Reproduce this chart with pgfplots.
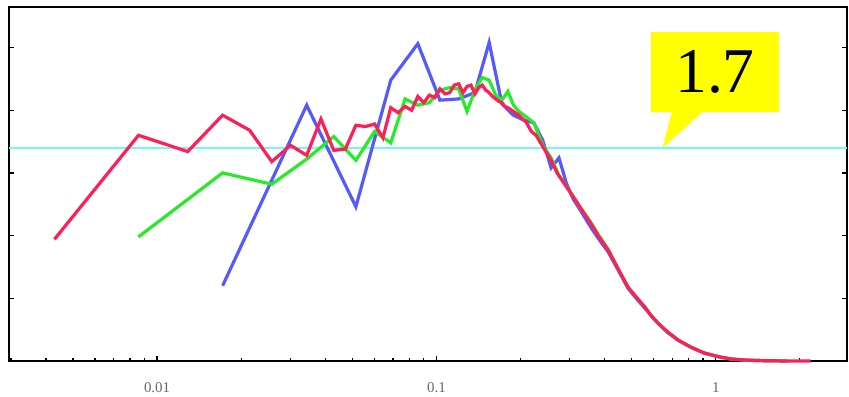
\documentclass[border=0pt]{standalone}
\usepackage{pgfplots}
\pgfplotsset{compat=1.18}
\usepackage{fontspec}
\setmainfont{Liberation Serif}
\definecolor{cred}{RGB}{255,30,85}
\definecolor{cblue}{RGB}{85,90,255}
\definecolor{cgreen}{RGB}{40,235,40}
\definecolor{ccyan}{RGB}{110,250,250}
\definecolor{cyel}{RGB}{255,255,0}
\begin{document}
\begin{tikzpicture}
\begin{axis}[
  scale only axis,
  width=838bp, height=354bp,
  xmode=log,
  xmin=0.00295, xmax=2.95,
  ymin=0, ymax=2.823,
  xtick={0.01,0.1,1},
  xticklabels={0.01,0.1,1},
  minor xtick={0.003,0.004,0.005,0.006,0.007,0.008,0.009,0.02,0.03,0.04,0.05,0.06,0.07,0.08,0.09,0.2,0.3,0.4,0.5,0.6,0.7,0.8,0.9,2},
  ytick={0,0.5,1,1.5,2,2.5},
  yticklabels={},
  xtick pos=bottom, ytick pos=both,
  tick align=inside,
  major tick length=5bp, minor tick length=3.5bp,
  tick style={black, line width=1.3bp},
  axis line style={line width=1.8bp},
  xticklabel style={font=\fontsize{15}{15}\selectfont, text=black!60, anchor=center, yshift=-27bp},
  clip=false,
]
\addplot[ccyan, line width=2.4bp, forget plot] coordinates {(0.00295,1.7) (2.95,1.7)};
% blue
\addplot[cblue, line width=3.2bp] coordinates {
(0.01716,0.60) (0.03432,2.04) (0.05148,1.23) (0.06864,2.24) (0.0858,2.53)
(0.10296,2.08) (0.12012,2.09) (0.13728,2.14) (0.15444,2.54) (0.1716,2.05)
(0.18876,1.96) (0.20592,1.92) (0.22308,1.90) (0.24024,1.76) (0.2574,1.54)
(0.27456,1.62) (0.29172,1.42) (0.30888,1.29) (0.326,1.21) (0.35607,1.07)
(0.382,0.97) (0.41184,0.87) (0.446,0.73) (0.48477,0.58) (0.519,0.50)
(0.5577,0.42) (0.588,0.36) (0.62205,0.30) (0.674,0.225) (0.73359,0.165)
(0.815,0.11) (0.90948,0.062) (1.03,0.032) (1.13685,0.015) (1.287,0.006)
(1.4586,0.003) (1.8018,0.0)
};
% green
\addplot[cgreen, line width=3.2bp] coordinates {
(0.00858,0.99) (0.01716,1.50) (0.02574,1.41) (0.03432,1.61) (0.0429,1.79)
(0.05148,1.60) (0.06006,1.83) (0.06864,1.74) (0.07722,2.09) (0.0858,2.04)
(0.09438,2.06) (0.10296,2.16) (0.11154,2.18) (0.12012,2.17) (0.1287,1.99)
(0.13728,2.16) (0.14586,2.26) (0.15444,2.24) (0.16302,2.12) (0.1716,2.08)
(0.18018,2.15) (0.18876,2.04) (0.19734,1.99) (0.20592,1.96) (0.22308,1.90)
(0.24024,1.72) (0.2574,1.62) (0.27456,1.48) (0.30888,1.31) (0.326,1.23)
(0.35607,1.11) (0.382,1.00) (0.41184,0.89) (0.446,0.74) (0.48477,0.59)
(0.519,0.51) (0.5577,0.43) (0.588,0.36) (0.62205,0.30) (0.674,0.23)
(0.73359,0.167) (0.815,0.11) (0.90948,0.064) (1.03,0.033) (1.13685,0.016)
(1.287,0.007) (1.4586,0.003) (1.8018,0.0)
};
% red
\addplot[cred, line width=3.2bp] coordinates {
(0.00429,0.97) (0.00858,1.80) (0.01287,1.67) (0.01716,1.96) (0.02145,1.84)
(0.02574,1.59) (0.03003,1.72) (0.03432,1.64) (0.03861,1.93) (0.0429,1.68)
(0.04719,1.69) (0.05148,1.88) (0.05577,1.87) (0.06006,1.89) (0.06435,1.78)
(0.06864,2.02) (0.07293,1.98) (0.07722,2.03) (0.08151,2.00) (0.0858,2.11)
(0.09009,2.06) (0.09438,2.12) (0.09867,2.10) (0.10296,2.17) (0.10725,2.13)
(0.11154,2.14) (0.11583,2.20) (0.12012,2.21) (0.12441,2.14) (0.1287,2.19)
(0.13299,2.20) (0.13728,2.13) (0.14157,2.18) (0.14586,2.20) (0.15015,2.16)
(0.15444,2.14) (0.15873,2.11) (0.16302,2.09) (0.16731,2.07) (0.1716,2.06)
(0.17589,2.03) (0.18018,2.02) (0.18876,1.99) (0.19734,1.96) (0.21021,1.90)
(0.21879,1.83) (0.22737,1.80) (0.24024,1.71) (0.2574,1.60) (0.27027,1.50)
(0.30888,1.31) (0.326,1.23) (0.35607,1.10) (0.382,0.99) (0.41184,0.885)
(0.446,0.74) (0.48477,0.59) (0.519,0.51) (0.5577,0.43) (0.588,0.36)
(0.62205,0.30) (0.674,0.23) (0.73359,0.167) (0.815,0.11) (0.90948,0.064)
(1.03,0.033) (1.13685,0.016) (1.287,0.007) (1.4586,0.003)
(1.8018,0.0) (2.1879,0.0)
};
\fill[cyel] (rel axis cs:0.766,0.703) rectangle (rel axis cs:0.919,0.929);
\fill[cyel] (rel axis cs:0.791,0.705) -- (rel axis cs:0.828,0.705) -- (rel axis cs:0.780,0.602) -- cycle;
\node[font=\fontsize{64}{64}\selectfont, text=black] at (rel axis cs:0.8425,0.816) {1.7};
\end{axis}
\path (current axis.south west) ++(-9bp,-34bp) coordinate (bl);
\path (current axis.north east) ++(2bp,7bp) coordinate (tr);
\path[use as bounding box] (bl) rectangle (tr);
\end{tikzpicture}
\end{document}
